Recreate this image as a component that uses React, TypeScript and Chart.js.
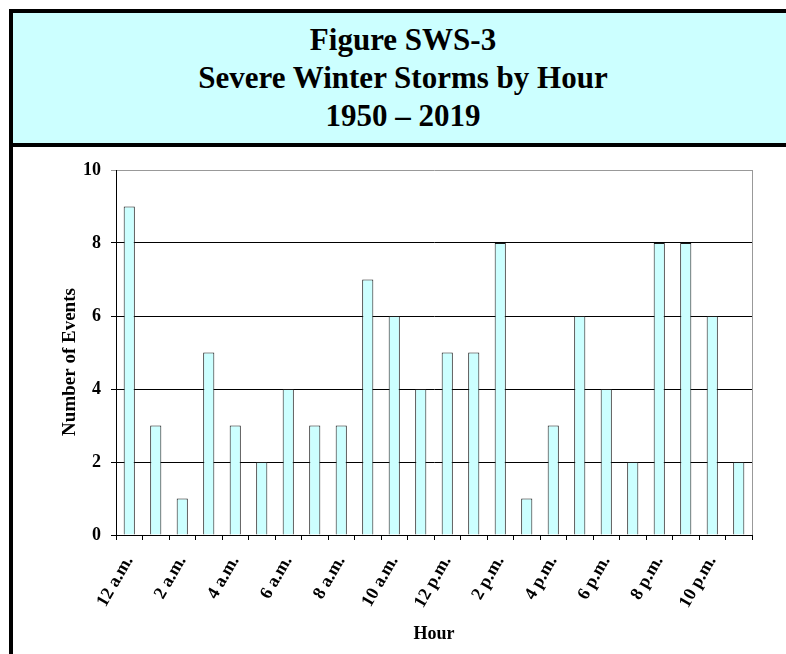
import React, { useEffect, useRef } from "react";
import { Chart, registerables } from "chart.js";

Chart.register(...registerables);

const hours = [
  "12 a.m.", "1 a.m.", "2 a.m.", "3 a.m.", "4 a.m.", "5 a.m.",
  "6 a.m.", "7 a.m.", "8 a.m.", "9 a.m.", "10 a.m.", "11 a.m.",
  "12 p.m.", "1 p.m.", "2 p.m.", "3 p.m.", "4 p.m.", "5 p.m.",
  "6 p.m.", "7 p.m.", "8 p.m.", "9 p.m.", "10 p.m.", "11 p.m.",
];
const events = [9, 3, 1, 5, 3, 2, 4, 3, 3, 7, 6, 4, 5, 5, 8, 1, 3, 6, 4, 2, 8, 8, 6, 2];
const shownTickLabels = [
  "12 a.m.", "2 a.m.", "4 a.m.", "6 a.m.", "8 a.m.", "10 a.m.",
  "12 p.m.", "2 p.m.", "4 p.m.", "6 p.m.", "8 p.m.", "10 p.m.",
];
const titleLines = ["Figure SWS-3", "Severe Winter Storms by Hour", "1950 \u2013 2019"];

const FONT = "'Liberation Serif', 'Times New Roman', serif";

const rightBorderPlugin = {
  id: "rightBorder",
  afterDraw(chart: any) {
    const { ctx, chartArea } = chart;
    ctx.save();
    ctx.strokeStyle = "#999999";
    ctx.lineWidth = 1;
    ctx.beginPath();
    ctx.moveTo(Math.round(chartArea.right) + 0.5, chartArea.top);
    ctx.lineTo(Math.round(chartArea.right) + 0.5, chartArea.bottom);
    ctx.stroke();
    ctx.restore();
  },
};

function ChartCanvas() {
  const ref = useRef<HTMLCanvasElement>(null);
  useEffect(() => {
    if (!ref.current) return;
    const chart = new Chart(ref.current, {
      type: "bar",
      data: {
        labels: hours,
        datasets: [
          {
            data: events,
            backgroundColor: "#CCFFFF",
            borderColor: "#1a1a1a",
            borderWidth: 1,
            barPercentage: 0.42,
            categoryPercentage: 1,
          },
        ],
      },
      plugins: [rightBorderPlugin],
      options: {
        animation: false,
        responsive: false,
        maintainAspectRatio: false,
        layout: { padding: { top: 23, right: 34, left: 46, bottom: 9 } },
        plugins: { legend: { display: false }, tooltip: { enabled: false }, title: { display: false } },
        scales: {
          x: {
            offset: true,
            grid: {
              offset: true,
              drawOnChartArea: false,
              drawTicks: true,
              tickLength: 5,
              color: "#000000",
            },
            border: { color: "#000000", width: 1 },
            ticks: {
              autoSkip: false,
              minRotation: 60,
              maxRotation: 60,
              padding: 12,
              color: "#000000",
              font: { family: FONT, size: 18, weight: "bold" },
              callback: (_v: any, i: number) =>
                shownTickLabels.includes(hours[i]) ? hours[i] : "",
            },
            title: {
              display: true,
              text: "Hour",
              color: "#000000",
              font: { family: FONT, size: 18, weight: "bold" },
              padding: { top: 10, bottom: 0 },
            },
            afterFit: (s: any) => {
              s.height = 110;
            },
          },
          y: {
            min: 0,
            max: 10,
            ticks: {
              stepSize: 2,
              padding: 10,
              color: "#000000",
              font: { family: FONT, size: 18, weight: "bold" },
            },
            grid: {
              tickLength: 5,
              color: (c: any) => (c.tick && c.tick.value === 10 ? "#999999" : "#000000"),
            },
            border: { color: "#000000", width: 1 },
            title: {
              display: true,
              text: "Number of Events    ",
              color: "#000000",
              font: { family: FONT, size: 19, weight: "bold" },
              padding: { top: 0, bottom: 0 },
            },
            afterFit: (s: any) => {
              s.width = 57;
            },
          },
        },
      },
    });
    return () => chart.destroy();
  }, []);
  return <canvas ref={ref} width={773} height={507} style={{ display: "block", width: 773, height: 507 }} />;
}

export default function App() {
  return (
    <div style={{ position: "fixed", left: 0, top: 0, width: 786, height: 654, overflow: "hidden", background: "#ffffff" }}>
      <div
        style={{
          position: "absolute",
          left: 9,
          top: 9,
          width: 780,
          height: 700,
          border: "4px solid #000000",
          background: "#ffffff",
        }}
      >
        <div
          style={{
            height: 130,
            background: "#CCFFFF",
            borderBottom: "4px solid #000000",
            display: "flex",
            flexDirection: "column",
            justifyContent: "center",
            alignItems: "center",
            fontFamily: FONT,
            fontWeight: "bold",
            fontSize: 31,
            lineHeight: "38px",
            color: "#000000",
          }}
        >
          {titleLines.map((t) => (
            <div key={t}>{t}</div>
          ))}
        </div>
        <div style={{ position: "absolute", left: 0, top: 134 }}>
          <ChartCanvas />
        </div>
      </div>
    </div>
  );
}
